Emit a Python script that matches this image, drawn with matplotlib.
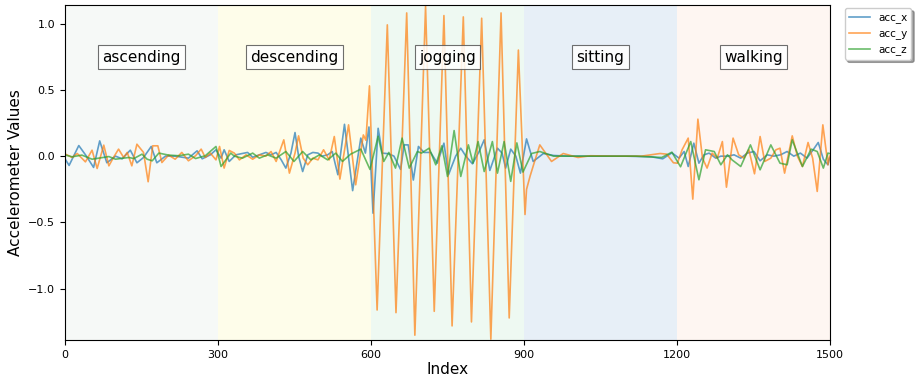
import matplotlib.pyplot as plt

# activity segments (300 samples each)
activities = ['ascending', 'descending', 'jogging', 'sitting', 'walking']
seg_len = 300
seg_colors = ['#f6f9f7', '#fefdea', '#eef9f2', '#e7eff7', '#fef6f2']

# acc_x samples (index, value)
acc_x_idx = [0, 8, 27, 42, 56, 68, 82, 99, 112, 128, 141, 154, 169, 180, 197, 216, 242, 259, 269, 285,
             296, 306, 312, 322, 335, 345, 358, 368, 381, 394, 404, 414, 424, 433, 443, 451, 458, 466, 476,
             486, 496, 504, 515, 524, 535, 548, 564, 580, 589,
             596, 604, 614, 622, 635, 645, 658, 665, 673, 683, 693, 704, 717, 730, 743, 752, 766, 776, 786,
             799, 812, 822, 833, 848, 857, 864, 874, 884, 893, 905,
             918, 938, 958, 990, 1050, 1100, 1150, 1172, 1190,
             1204, 1214, 1222, 1233, 1243, 1253, 1263, 1276, 1286, 1299, 1312, 1325, 1338, 1351, 1363, 1377,
             1390, 1403, 1416, 1429, 1442, 1455, 1467, 1477, 1487, 1496, 1499]
acc_x = [-0.02, -0.07, 0.08, 0.0, -0.085, 0.115, -0.05, 0.0, -0.02, 0.045, -0.05, -0.01, 0.073, -0.05, 0.0,
         0.0, -0.015, 0.04, -0.02, 0.01,
         0.048, -0.015, 0.048, -0.04, 0.01, 0.018, 0.028, -0.008, 0.01, 0.028, 0.01, 0.028, -0.028, -0.09,
         0.023, 0.178, 0.0, -0.116, 0.01, 0.028, 0.023, 0.0, 0.01, 0.035, -0.14, 0.24, -0.26, 0.136, 0.023,
         0.22, -0.43, 0.21, 0.023, 0.018, 0.0, -0.10, 0.085, 0.085, -0.18, 0.073, 0.028, 0.028, -0.053,
         0.098, -0.14, 0.0, 0.06, 0.0, -0.058, 0.035, 0.123, -0.108, 0.06, 0.023, -0.09, 0.053, 0.0,
         -0.128, 0.13,
         -0.04, 0.02, 0.005, 0.0, 0.0, 0.0, -0.005, -0.02, 0.025,
         -0.015, 0.035, -0.078, 0.098, -0.053, 0.01, 0.023, -0.015, 0.0, 0.0, 0.01, -0.015, 0.023, 0.035,
         -0.035, 0.01, 0.0, 0.01, 0.035, 0.0, 0.023, -0.015, 0.048, 0.103, -0.023, -0.065, -0.015]

# acc_y samples (index, value)
acc_y_idx = [1, 14, 24, 40, 53, 63, 76, 86, 95, 105, 115, 122, 131, 141, 154, 163, 172, 182, 190, 203,
             216, 229, 242, 256, 267, 275, 285, 296,
             303, 312, 322, 332, 342, 355, 368, 381, 394, 404, 414, 429, 440, 451, 458, 467, 476, 486, 496,
             507, 518, 528, 539, 556, 570, 585, 590,
             597, 612, 632, 649, 670, 686, 707, 724, 743, 759, 781, 797, 817, 835, 855, 871, 889, 902,
             905, 912, 920, 931, 954, 977, 1006, 1030, 1080, 1130, 1167, 1180, 1193,
             1201, 1210, 1222, 1231, 1241, 1250, 1259, 1269, 1279, 1289, 1297, 1310, 1321, 1331, 1341, 1352,
             1363, 1372, 1384, 1394, 1402, 1411, 1426, 1436, 1446, 1457, 1466, 1475, 1486, 1496, 1499]
acc_y = [0.015, -0.01, 0.02, -0.043, 0.045, -0.093, 0.083, -0.073, -0.01, 0.053, -0.01, 0.028, -0.073,
         0.09, 0.028, -0.193, 0.078, 0.078, -0.048, 0.008, -0.023, 0.028, -0.035, 0.003, 0.053, -0.01,
         0.023, -0.028,
         0.073, -0.09, 0.043, 0.023, -0.028, 0.01, -0.023, 0.01, 0.0, 0.035, -0.04, 0.123, -0.128, 0.023,
         0.153, -0.015, -0.065, -0.015, -0.028, 0.048, -0.028, 0.148, -0.173, 0.236, -0.216, 0.16, 0.12,
         0.53, -1.16, 0.99, -1.18, 1.08, -1.35, 1.13, -1.17, 1.06, -1.28, 1.05, -1.25, 1.04, -1.38, 1.08,
         -1.22, 0.80, -0.44,
         -0.25, -0.15, -0.05, 0.085, -0.04, 0.02, -0.01, 0.003, 0.0, 0.0, 0.02, 0.015, -0.05,
         -0.053, 0.048, 0.136, -0.324, 0.279, -0.015, -0.09, 0.023, -0.015, 0.11, -0.234, 0.136, 0.01,
         -0.015, 0.048, -0.133, 0.148, -0.04, -0.015, 0.048, 0.06, -0.128, 0.153, 0.0, -0.078, 0.103,
         -0.015, -0.266, 0.236, -0.065, 0.0]

# acc_z samples (index, value)
acc_z_idx = [1, 14, 33, 53, 86, 99, 125, 135, 151, 161, 171, 184, 203, 223, 242, 256, 275, 296,
             306, 325, 332, 348, 368, 381, 397, 414, 433, 449, 466, 482, 499, 515, 531, 544, 560, 580,
             598, 614, 625, 635, 648, 661, 675, 691, 699, 714, 727, 739, 750, 763, 776, 791, 800, 810, 822,
             838, 848, 861, 874, 886, 898, 915, 931, 958, 1000, 1060, 1120, 1170, 1190,
             1207, 1227, 1243, 1256, 1273, 1286, 1299, 1308, 1325, 1344, 1363, 1384, 1402, 1416, 1426, 1446,
             1463, 1475, 1487, 1496, 1499]
acc_z = [0.008, -0.005, 0.008, -0.023, -0.003, -0.023, -0.01, -0.018, 0.015, -0.023, -0.035, 0.023, 0.008,
         0.003, 0.015, -0.018, 0.003, 0.073,
         -0.078, 0.023, 0.0, -0.015, 0.023, -0.015, 0.01, -0.015, 0.035, -0.04, 0.035, -0.028, 0.01,
         -0.028, 0.023, -0.04, 0.015, 0.053,
         -0.10, 0.15, -0.04, 0.028, -0.09, 0.136, -0.09, 0.035, 0.023, 0.06, -0.065, 0.078, -0.153, 0.193,
         -0.153, 0.085, -0.053, 0.11, -0.116, 0.11, -0.128, 0.11, -0.19, 0.1, -0.12, 0.02, 0.035, 0.0,
         0.0, 0.0, 0.0, -0.01, 0.03,
         -0.08, 0.11, -0.178, 0.048, 0.035, -0.065, 0.01, -0.028, -0.078, 0.085, -0.103, 0.085, -0.053,
         -0.065, 0.123, -0.078, 0.053, 0.035, -0.09, 0.023, 0.02]

fig = plt.figure(figsize=(9.17, 3.81), dpi=100)
ax = fig.add_axes([0.0709, 0.108, 0.8342, 0.879])

# shade each activity segment and label it
for i, (name, col) in enumerate(zip(activities, seg_colors)):
    start = i * seg_len
    ax.axvspan(start, start + seg_len, color=col, zorder=0, lw=0)
    ax.text(start + seg_len / 2, 0.745, name, ha='center', va='center', fontsize=11,
            bbox=dict(boxstyle='square,pad=0.3', facecolor='white', edgecolor='#555555', lw=0.8, alpha=0.85))

ax.plot(acc_x_idx, acc_x, color='tab:blue', alpha=0.7, lw=1.2, solid_joinstyle='round', label='acc_x')
ax.plot(acc_y_idx, acc_y, color='tab:orange', alpha=0.7, lw=1.2, solid_joinstyle='round', label='acc_y')
ax.plot(acc_z_idx, acc_z, color='tab:green', alpha=0.7, lw=1.2, solid_joinstyle='round', label='acc_z')

ax.set_xlim(0, 1500)
ax.set_ylim(-1.385, 1.14)
ax.set_xticks([0, 300, 600, 900, 1200, 1500])
ax.set_yticks([-1.0, -0.5, 0.0, 0.5, 1.0])
ax.tick_params(labelsize=8)
ax.set_xlabel('Index', fontsize=11, labelpad=2)
ax.set_ylabel('Accelerometer Values', fontsize=11)

ax.legend(loc='upper left', bbox_to_anchor=(1.015, 1.0), fontsize=7.5, shadow=True, borderaxespad=0.3)

fig.savefig('out.png', dpi=100)
